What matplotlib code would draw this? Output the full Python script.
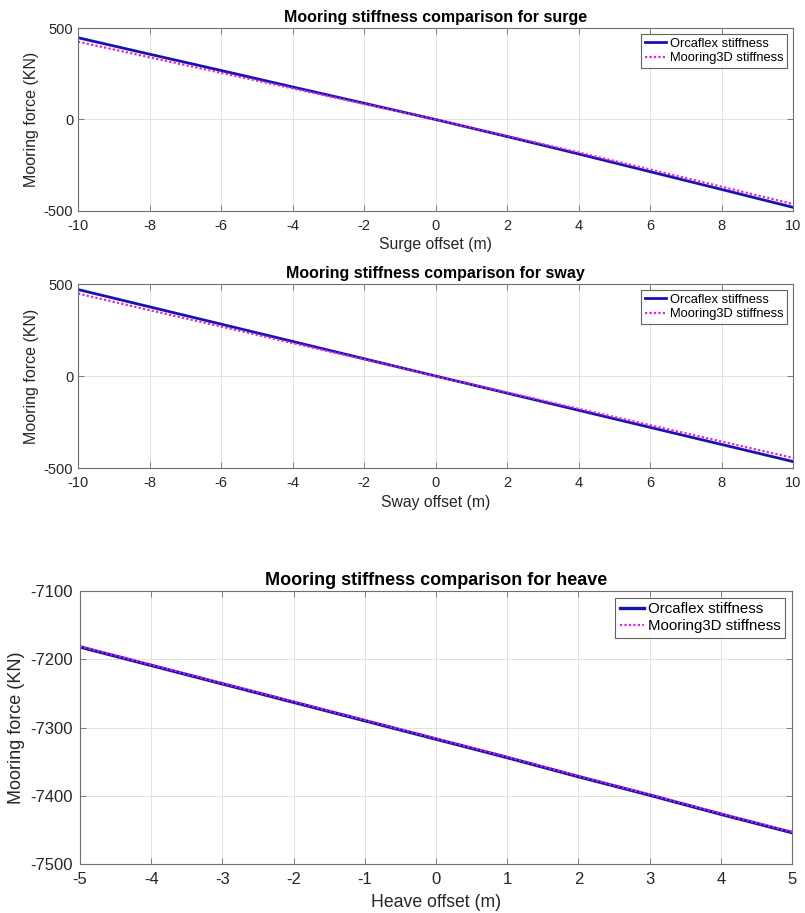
import matplotlib
matplotlib.use("Agg")
import matplotlib.pyplot as plt

plt.rcParams['font.family'] = ['Liberation Sans', 'DejaVu Sans']
plt.rcParams['axes.unicode_minus'] = False

# Surge
surge_offset = [-10, -8, -6, -4, -2, 0, 2, 4, 6, 8, 10]
surge_orcaflex = [447, 357, 268, 178, 89, 0, -93, -188, -285, -382, -480]
surge_mooring3d = [425, 340, 255, 170, 85, 0, -89, -180, -273, -367, -462]

# Sway
sway_offset = [-10, -8, -6, -4, -2, 0, 2, 4, 6, 8, 10]
sway_orcaflex = [470, 376, 282, 188, 94, 0, -93, -186, -279, -372, -465]
sway_mooring3d = [448, 358, 269, 179, 90, 0, -89, -178, -267, -356, -445]

# Heave
heave_offset = [-5, -4, -3, -2, -1, 0, 1, 2, 3, 4, 5]
heave_orcaflex = [-7182, -7209, -7236, -7263, -7290, -7317, -7344, -7372, -7399, -7427, -7454]
heave_mooring3d = [-7181, -7208, -7235, -7262, -7289, -7316, -7343, -7371, -7398, -7426, -7453]

W, H = 805, 913
fig = plt.figure(figsize=(W / 100, H / 100), dpi=100)


def box(l, t, r, b):
    return [l / W, 1 - b / H, (r - l) / W, (b - t) / H]


BLUE = '#1414b4'
MAG = '#e020e0'
AXC = '#6e6e6e'
TXT = '#262626'

panels = [
    dict(rect=box(78, 28, 793, 211), x=surge_offset, a=surge_orcaflex, b=surge_mooring3d,
         xlim=(-10, 10), ylim=(-500, 500), xticks=range(-10, 11, 2), yticks=[-500, 0, 500],
         xlabel='Surge offset (m)', title='Mooring stiffness comparison for surge',
         fs_tick=10.5, fs_xlabel=11.3, fs_ylabel=11.5, fs_title=11.5, fs_leg=9.3, lw=2.0,
         xpad=6, ypad=3.5, xlabelpad=3, ylabelpad=3),
    dict(rect=box(78, 284, 793, 468), x=sway_offset, a=sway_orcaflex, b=sway_mooring3d,
         xlim=(-10, 10), ylim=(-500, 500), xticks=range(-10, 11, 2), yticks=[-500, 0, 500],
         xlabel='Sway offset (m)', title='Mooring stiffness comparison for sway',
         fs_tick=10.5, fs_xlabel=11.3, fs_ylabel=11.5, fs_title=11.5, fs_leg=9.3, lw=2.0,
         xpad=6, ypad=3.5, xlabelpad=3, ylabelpad=3),
    dict(rect=box(80, 591, 792, 864), x=heave_offset, a=heave_orcaflex, b=heave_mooring3d,
         xlim=(-5, 5), ylim=(-7500, -7100), xticks=range(-5, 6), yticks=range(-7500, -7099, 100),
         xlabel='Heave offset (m)', title='Mooring stiffness comparison for heave',
         fs_tick=12, fs_xlabel=12.7, fs_ylabel=13, fs_title=13, fs_leg=10.8, lw=2.4,
         xpad=6, ypad=5, xlabelpad=5, ylabelpad=4),
]

for p in panels:
    ax = fig.add_axes(p['rect'])
    ax.plot(p['x'], p['a'], color=BLUE, lw=p['lw'], label='Orcaflex stiffness')
    ax.plot(p['x'], p['b'], color=MAG, lw=1.6, ls=(0, (1, 1)), label='Mooring3D stiffness')
    ax.set_xlim(*p['xlim'])
    ax.set_ylim(*p['ylim'])
    ax.set_xticks(list(p['xticks']))
    ax.set_yticks(list(p['yticks']))
    for s in ax.spines.values():
        s.set_color(AXC)
        s.set_linewidth(0.8)
    ax.tick_params(direction='in', top=True, right=True, labelcolor=TXT, color=AXC,
                   labelsize=p['fs_tick'], length=4, width=0.6)
    ax.tick_params(axis='x', pad=p['xpad'])
    ax.tick_params(axis='y', pad=p['ypad'])
    ax.grid(True, color='#e2e2e2', linewidth=0.7)
    ax.set_axisbelow(True)
    ax.set_xlabel(p['xlabel'], fontsize=p['fs_xlabel'], color=TXT, labelpad=p['xlabelpad'])
    ax.set_ylabel('Mooring force (KN)', fontsize=p['fs_ylabel'], color=TXT,
                  labelpad=p['ylabelpad'])
    ax.set_title(p['title'], fontsize=p['fs_title'], fontweight='bold', pad=4)
    leg = ax.legend(loc='upper right', fontsize=p['fs_leg'], frameon=True, fancybox=False,
                    borderpad=0.3, handlelength=1.6, handletextpad=0.3, labelspacing=0.2,
                    borderaxespad=0.45)
    leg.get_frame().set_edgecolor('#3a3a3a')
    leg.get_frame().set_linewidth(0.8)

fig.savefig('out.png', dpi=100, facecolor='white')
